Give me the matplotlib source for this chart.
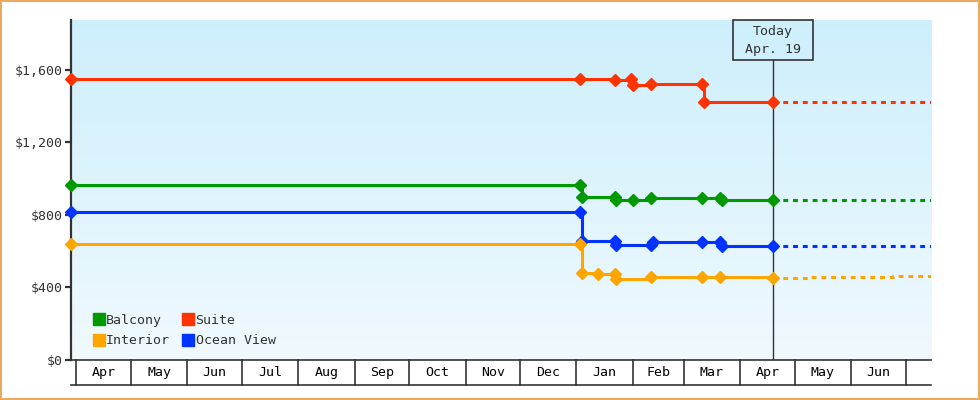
import matplotlib
matplotlib.use("Agg")
import matplotlib.pyplot as plt
import matplotlib.dates as mdates
import matplotlib.transforms as mtransforms
import numpy as np
from datetime import datetime
from matplotlib.patches import Rectangle
from matplotlib.lines import Line2D

# ---------------- data ----------------
x_start = "2024-03-29"
x_end = "2025-07-15"
today = "2025-04-19"
today_label = ["Today", "Apr. 19"]

suite_dates = ["2024-03-29", "2025-01-03", "2025-01-22", "2025-01-31", "2025-02-01",
               "2025-02-11", "2025-03-11", "2025-03-12", "2025-04-19"]
suite_prices = [1549, 1549, 1544, 1549, 1514, 1524, 1524, 1424, 1424]
suite_fc_dates = ["2025-04-19", "2025-07-15"]
suite_fc = [1424, 1424]

balcony_dates = ["2024-03-29", "2025-01-03", "2025-01-04", "2025-01-22", "2025-01-23",
                 "2025-02-01", "2025-02-11", "2025-03-11", "2025-03-21", "2025-03-22", "2025-04-19"]
balcony_prices = [963, 963, 900, 900, 884, 884, 893, 896, 896, 884, 884]
balcony_fc_dates = ["2025-04-19", "2025-07-15"]
balcony_fc = [884, 884]

ocean_dates = ["2024-03-29", "2025-01-03", "2025-01-04", "2025-01-22", "2025-01-23",
               "2025-02-11", "2025-02-12", "2025-03-11", "2025-03-21", "2025-03-22", "2025-04-19"]
ocean_prices = [818, 818, 659, 659, 632, 632, 650, 650, 650, 628, 628]
ocean_fc_dates = ["2025-04-19", "2025-07-15"]
ocean_fc = [628, 628]

interior_dates = ["2024-03-29", "2025-01-03", "2025-01-04", "2025-01-13", "2025-01-22",
                  "2025-01-23", "2025-02-11", "2025-03-11", "2025-03-21", "2025-04-19"]
interior_prices = [637, 637, 481, 474, 474, 444, 457, 457, 455, 453]
interior_fc_dates = ["2025-04-19", "2025-05-09", "2025-06-24", "2025-07-15"]
interior_fc = [453, 459, 464, 464]

# legend order (filled column by column): col 1 = Balcony, Interior; col 2 = Suite, Ocean View
legend_order = ["Balcony", "Interior", "Suite", "Ocean View"]
series_colors = {"Balcony": "#009900", "Suite": "#ff3300",
                 "Interior": "#ffa500", "Ocean View": "#0033ff"}

y_ticks = [0, 400, 800, 1200, 1600]
y_tick_labels = ["$0", "$400", "$800", "$1,200", "$1,600"]
y_max = 1875

month_starts = ["2024-04-01", "2024-05-01", "2024-06-01", "2024-07-01", "2024-08-01",
                "2024-09-01", "2024-10-01", "2024-11-01", "2024-12-01", "2025-01-01",
                "2025-02-01", "2025-03-01", "2025-04-01", "2025-05-01", "2025-06-01",
                "2025-07-01"]
month_labels = ["Apr", "May", "Jun", "Jul", "Aug", "Sep", "Oct", "Nov", "Dec",
                "Jan", "Feb", "Mar", "Apr", "May", "Jun"]

# ---------------- helpers ----------------
def d(s):
    return mdates.date2num(datetime.strptime(s, "%Y-%m-%d"))

FONT = "DejaVu Sans Mono"
FS = 9.5
TXT = "#333333"
plt.rcParams["font.family"] = [FONT]

fig = plt.figure(figsize=(9.8, 4.0), dpi=100)
ax = fig.add_axes([71 / 980, 40 / 400, 860 / 980, 340 / 400])

# gradient background
top = np.array([0xcd, 0xef, 0xfc]) / 255
bot = np.array([0xf0, 0xf9, 0xfe]) / 255
t = np.linspace(0, 1, 256)[:, None]
grad = (top * (1 - t) + bot * t)[:, None, :]
grad = np.repeat(grad, 2, axis=1)
ax.imshow(grad, extent=[0, 1, 0, 1], transform=ax.transAxes, aspect="auto", zorder=0)

series = [
    ("Suite", suite_dates, suite_prices, suite_fc_dates, suite_fc),
    ("Balcony", balcony_dates, balcony_prices, balcony_fc_dates, balcony_fc),
    ("Ocean View", ocean_dates, ocean_prices, ocean_fc_dates, ocean_fc),
    ("Interior", interior_dates, interior_prices, interior_fc_dates, interior_fc),
]
for name, ds, ps, fds, fps in series:
    c = series_colors[name]
    ax.plot([d(s) for s in fds], fps, drawstyle="steps-post", color=c, lw=2.2,
            linestyle=(0, (1.6, 1.6)), dash_capstyle="butt", zorder=3, clip_on=True)
    ax.plot([d(s) for s in ds], ps, drawstyle="steps-post", color=c, lw=2.2,
            marker="D", ms=6, solid_capstyle="butt", zorder=4, clip_on=False)

ax.set_xlim(d(x_start), d(x_end))
ax.set_ylim(0, y_max)

# axes styling
for s in ["top", "right", "bottom"]:
    ax.spines[s].set_visible(False)
ax.spines["left"].set_color(TXT)
ax.spines["left"].set_linewidth(1.6)
ax.set_yticks(y_ticks)
ax.set_yticklabels(y_tick_labels, fontsize=FS, color=TXT, family=FONT)
ax.tick_params(axis="y", length=4, width=1.6, color=TXT, pad=2)
ax.set_xticks([])

# month boxes below axis
bt = mtransforms.blended_transform_factory(ax.transData, ax.transAxes)
box_bot = -25 / 340
ax.plot([0, 1], [0, 0], transform=ax.transAxes, color=TXT, lw=1.2, clip_on=False, zorder=5)
ax.plot([0, 1], [box_bot, box_bot], transform=ax.transAxes, color=TXT, lw=1.2, clip_on=False)
for m in month_starts:
    ax.plot([d(m), d(m)], [0, box_bot], transform=bt, color=TXT, lw=1.2, clip_on=False)
for i, lab in enumerate(month_labels):
    xc = (d(month_starts[i]) + d(month_starts[i + 1])) / 2
    ax.text(xc, box_bot / 2, lab, transform=bt, ha="center", va="center",
            fontsize=FS, color="black", family=FONT)

# today marker
td = d(today)
box_h = 40 / 340
half_w = 40 / 860 * (d(x_end) - d(x_start))
ax.plot([td, td], [0, 1 - box_h], transform=bt, color=TXT, lw=1.0, zorder=2)
ax.add_patch(Rectangle((td - half_w, 1 - box_h), 2 * half_w, box_h, transform=bt,
                       facecolor="none", edgecolor=TXT, lw=1.2, zorder=6, clip_on=False))
ax.text(td, 1 - 12 / 340, today_label[0], transform=bt, ha="center", va="center",
        fontsize=FS, color=TXT, family=FONT)
ax.text(td, 1 - 29 / 340, today_label[1], transform=bt, ha="center", va="center",
        fontsize=FS, color=TXT, family=FONT)

# legend
handles = [Line2D([], [], marker="s", linestyle="none", markersize=8,
                  color=series_colors[n]) for n in legend_order]
leg = ax.legend(handles, legend_order, loc="lower left", bbox_to_anchor=(0.026, 0.037),
                ncol=2, frameon=False, prop={"family": FONT, "size": FS},
                handlelength=0.8, handletextpad=0.15, columnspacing=1.0,
                labelspacing=0.58, borderaxespad=0, borderpad=0)
for txt in leg.get_texts():
    txt.set_color(TXT)

# figure border
fig.patches.append(Rectangle((0.001, 0.002), 0.998, 0.996, transform=fig.transFigure,
                             fill=False, edgecolor="#e9a963", lw=1.5))

fig.savefig("out.png", dpi=100)
